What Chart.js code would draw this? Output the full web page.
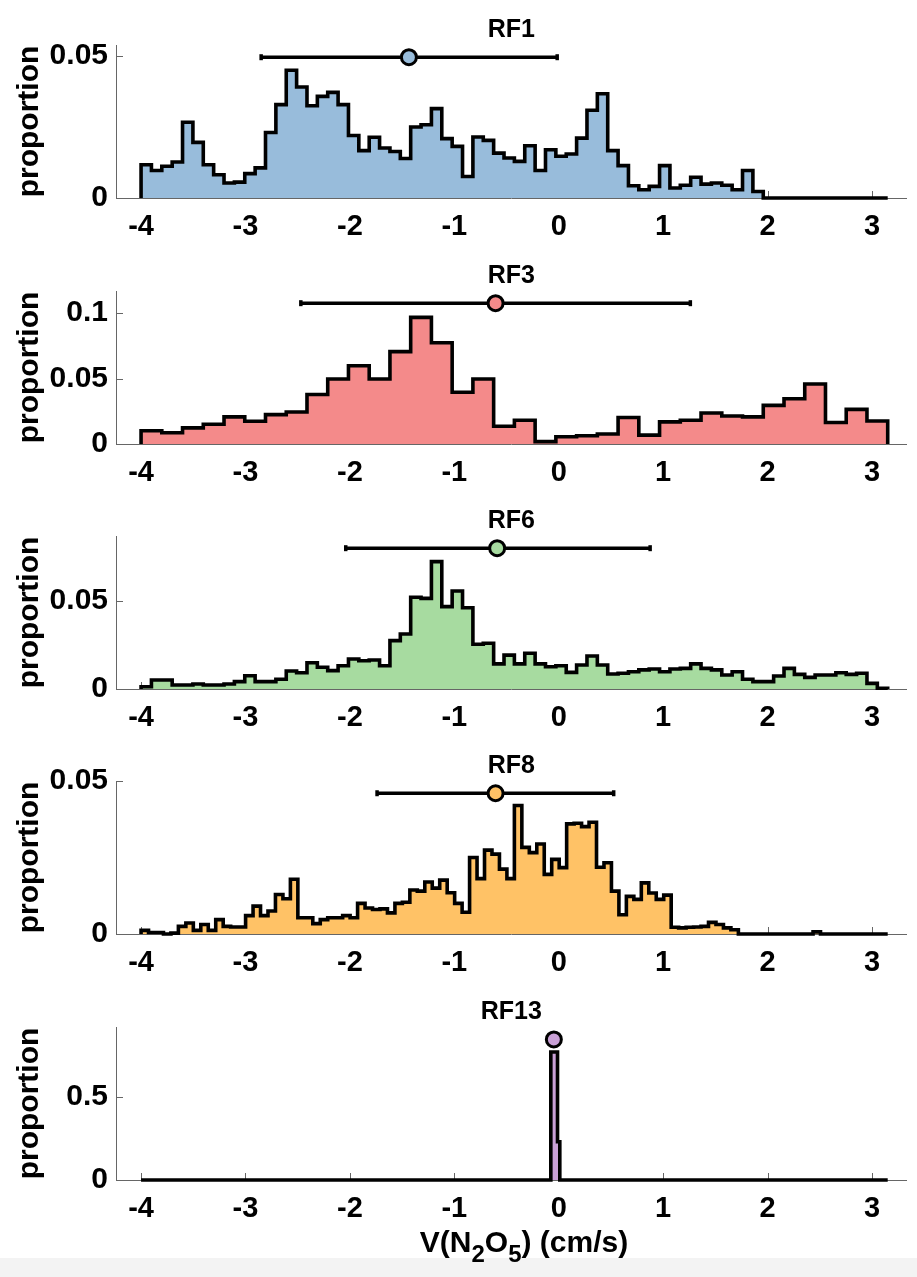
<!DOCTYPE html>
<html>
<head>
<meta charset="utf-8">
<script src="https://cdn.jsdelivr.net/npm/chart.js@4.4.1/dist/chart.umd.min.js"></script>
<style>
  html, body { margin: 0; padding: 0; background: #fff; }
  body { width: 917px; height: 1277px; position: relative; overflow: hidden;
         font-family: "Liberation Sans", Arial, Helvetica, sans-serif; }
  canvas.panel { position: absolute; left: 0; }
  #band { position: absolute; left: 0; top: 1258px; width: 917px; height: 19px; background: #f3f3f3; }
  #xlabel { position: absolute; left: 126px; width: 796px; top: 1227px; text-align: center;
            font-size: 30px; line-height: 30px; font-weight: bold; color: #000; white-space: nowrap; }
  #xlabel sub { font-size: 0.8em; vertical-align: -0.4em; line-height: 0; }
</style>
</head>
<body>
<canvas class="panel" id="p0" width="917" height="245" style="top:0px"></canvas>
<canvas class="panel" id="p1" width="917" height="245" style="top:246px"></canvas>
<canvas class="panel" id="p2" width="917" height="245" style="top:491px"></canvas>
<canvas class="panel" id="p3" width="917" height="245" style="top:736px"></canvas>
<canvas class="panel" id="p4" width="917" height="245" style="top:982px"></canvas>
<div id="band"></div>
<div id="xlabel">V(N<sub>2</sub>O<sub>5</sub>) (cm/s)</div>
<script>
// histogram range shared by all flights
const binStart = -4;
const binEnd = 3.15;
const xTicks = [-4, -3, -2, -1, 0, 1, 2, 3];

const runNames = ['RF1', 'RF3', 'RF6', 'RF8', 'RF13'];

// proportion per bin
const rf1Values = [
  0.0117, 0.0097, 0.0112, 0.0127, 0.0267, 0.0196, 0.0117, 0.0082, 0.0053, 0.0056,
  0.0086, 0.0106, 0.0231, 0.0329, 0.0450, 0.0391, 0.0325, 0.0358, 0.0372, 0.0329,
  0.0220, 0.0167, 0.0214, 0.0176, 0.0164, 0.0139, 0.0250, 0.0258, 0.0315, 0.0209,
  0.0182, 0.0076, 0.0215, 0.0203, 0.0158, 0.0141, 0.0129, 0.0184, 0.0097, 0.0170,
  0.0147, 0.0155, 0.0211, 0.0309, 0.0367, 0.0167, 0.0114, 0.0043, 0.0029, 0.0041,
  0.0114, 0.0035, 0.0045, 0.0073, 0.0049, 0.0053, 0.0045, 0.0029, 0.0097, 0.0023,
  0, 0, 0, 0, 0, 0, 0, 0, 0, 0, 0, 0
];
const rf3Values = [
  0.0101, 0.0086, 0.0123, 0.0151, 0.0207, 0.0174, 0.0224, 0.0244, 0.0378, 0.0496,
  0.0597, 0.0496, 0.0705, 0.0967, 0.0773, 0.0395, 0.0496, 0.0136, 0.0181, 0.0018,
  0.0055, 0.0063, 0.0076, 0.0202, 0.0068, 0.0169, 0.0181, 0.0237, 0.0214, 0.0207,
  0.0295, 0.0345, 0.0458, 0.0164, 0.0264, 0.0176
];
const rf6Values = [
  0.0013, 0.0051, 0.0051, 0.0023, 0.0023, 0.0028, 0.0023, 0.0023, 0.0028, 0.0042,
  0.0075, 0.0042, 0.0042, 0.0055, 0.0102, 0.0092, 0.0149, 0.0123, 0.0104, 0.0132,
  0.0170, 0.0160, 0.0164, 0.0132, 0.0274, 0.0311, 0.0519, 0.0513, 0.0721, 0.0466,
  0.0555, 0.0460, 0.0253, 0.0259, 0.0142, 0.0192, 0.0142, 0.0202, 0.0142, 0.0126,
  0.0132, 0.0094, 0.0136, 0.0187, 0.0136, 0.0085, 0.0089, 0.0098, 0.0108, 0.0113,
  0.0098, 0.0113, 0.0117, 0.0142, 0.0117, 0.0108, 0.0079, 0.0098, 0.0055, 0.0042,
  0.0042, 0.0074, 0.0117, 0.0083, 0.0066, 0.0079, 0.0079, 0.0092, 0.0083, 0.0089,
  0.0032, 0.0004
];
const rf8Values = [
  0.0012, 0.0005, 0.0005, 0.0000, 0.0003, 0.0025, 0.0036, 0.0012, 0.0031, 0.0012,
  0.0047, 0.0025, 0.0023, 0.0023, 0.0060, 0.0091, 0.0060, 0.0075, 0.0129, 0.0115,
  0.0179, 0.0053, 0.0053, 0.0034, 0.0047, 0.0053, 0.0053, 0.0060, 0.0053, 0.0100,
  0.0085, 0.0080, 0.0082, 0.0069, 0.0100, 0.0104, 0.0144, 0.0140, 0.0170, 0.0150,
  0.0176, 0.0135, 0.0100, 0.0071, 0.0250, 0.0181, 0.0274, 0.0261, 0.0212, 0.0181,
  0.0420, 0.0283, 0.0266, 0.0294, 0.0195, 0.0244, 0.0217, 0.0360, 0.0362, 0.0351,
  0.0365, 0.0218, 0.0233, 0.0140, 0.0063, 0.0123, 0.0113, 0.0167, 0.0134, 0.0113,
  0.0127, 0.0022, 0.0020, 0.0022, 0.0023, 0.0025, 0.0038, 0.0031, 0.0020, 0.0014,
  0, 0, 0, 0, 0, 0, 0, 0, 0, 0,
  0.0007, 0, 0, 0, 0, 0, 0, 0, 0, 0
];
// RF13 is almost all in two bins next to zero
const rf13Edges = [-4, -0.076, -0.012, 0.01, 3.15];
const rf13Values = [0, 0.77, 0.23, 0];

const histValues = [rf1Values, rf3Values, rf6Values, rf8Values, rf13Values];

// mean and +/- one std dev, drawn above each histogram
const runMeans = [-1.435, -0.605, -0.59, -0.605, -0.047];
const runLow = [-2.85, -2.47, -2.04, -1.74, -0.047];
const runHigh = [-0.015, 1.26, 0.875, 0.526, -0.047];
const markerLevel = [0.0496, 0.1075, 0.0797, 0.046, 0.845];

const yTop = [0.0539, 0.1168, 0.0866, 0.05, 0.92];
const yTicks = [[0, 0.05], [0, 0.05, 0.1], [0, 0.05], [0, 0.05], [0, 0.5]];

const fillColors = ['#98bcdb', '#f48a8a', '#a7dba0', '#ffc266', '#c9a0d6'];
const axisColor = '#666666';
const fontFamily = '"Liberation Sans", Arial, Helvetica, sans-serif';

Chart.defaults.font.family = fontFamily;

function evenEdges(n) {
  const w = (binEnd - binStart) / n;
  return Array.from({ length: n + 1 }, (_, i) => binStart + i * w);
}

function histPoints(edges, values) {
  const pts = [{ x: edges[0], y: 0 }];
  values.forEach((v, i) => pts.push({ x: edges[i], y: v }));
  pts.push({ x: edges[edges.length - 1], y: 0 });
  return pts;
}

// MATLAB style ticks pointing into the axes
const inwardTicks = {
  id: 'inwardTicks',
  beforeDatasetsDraw(chart) {
    const { ctx, chartArea, scales: { x, y } } = chart;
    ctx.save();
    ctx.strokeStyle = axisColor;
    ctx.lineWidth = 1;
    ctx.beginPath();
    x.ticks.forEach((t) => {
      const px = Math.round(x.getPixelForValue(t.value)) + 0.5;
      ctx.moveTo(px, chartArea.bottom);
      ctx.lineTo(px, chartArea.bottom - 7);
    });
    y.ticks.forEach((t) => {
      const py = Math.round(y.getPixelForValue(t.value)) + 0.5;
      ctx.moveTo(chartArea.left, py);
      ctx.lineTo(chartArea.left + 7, py);
    });
    ctx.stroke();
    ctx.restore();
  },
};

function makePanel(i) {
  const canvas = document.getElementById('p' + i);
  const edges = i === 4 ? rf13Edges : evenEdges(histValues[i].length);
  const level = markerLevel[i];

  new Chart(canvas, {
    type: 'line',
    data: {
      datasets: [
        {
          data: [{ x: runMeans[i], y: level }],
          showLine: false,
          pointRadius: 7.5,
          pointBorderWidth: 3,
          pointBackgroundColor: fillColors[i],
          pointBorderColor: '#000',
          clip: false,
        },
        {
          data: [{ x: runLow[i], y: level }, { x: runHigh[i], y: level }],
          borderColor: '#000',
          borderWidth: 3.5,
          pointStyle: 'line',
          rotation: 90,
          pointRadius: 3,
          pointBorderWidth: 3.5,
          pointBorderColor: '#000',
          clip: false,
        },
        {
          data: histPoints(edges, histValues[i]),
          stepped: true,
          borderColor: '#000',
          borderWidth: 3.6,
          borderJoinStyle: 'miter',
          backgroundColor: fillColors[i],
          fill: 'origin',
          pointRadius: 0,
          clip: 4,
        },
      ],
    },
    options: {
      responsive: false,
      animation: false,
      events: [],
      layout: { padding: { left: 0, right: 5, top: 0, bottom: 0 } },
      plugins: {
        legend: { display: false },
        tooltip: { enabled: false },
        title: {
          display: true,
          text: runNames[i],
          fullSize: false,
          color: '#000',
          font: { size: 25, weight: 'bold' },
          padding: { top: 15, bottom: 0 },
        },
      },
      scales: {
        x: {
          type: 'linear',
          min: -4.24,
          max: 3.33,
          afterBuildTicks: (s) => { s.ticks = xTicks.map((v) => ({ value: v })); },
          afterFit: (s) => { s.height = 47; },
          grid: { drawOnChartArea: false, drawTicks: false },
          border: { color: axisColor, width: 1 },
          ticks: {
            color: '#000',
            font: { size: 29, weight: 'bold' },
            padding: 12,
            maxRotation: 0,
            autoSkip: false,
            callback: (v) => String(v),
          },
        },
        y: {
          min: 0,
          max: yTop[i],
          afterBuildTicks: (s) => { s.ticks = yTicks[i].map((v) => ({ value: v })); },
          afterFit: (s) => { s.width = 116; },
          grid: { drawOnChartArea: false, drawTicks: false },
          border: { color: axisColor, width: 1 },
          ticks: {
            color: '#000',
            font: { size: 30, weight: 'bold' },
            padding: 8,
            callback: (v) => String(+Number(v).toFixed(3)),
          },
          title: {
            display: true,
            text: 'proportion',
            color: '#000',
            font: { size: 30, weight: 'bold' },
            padding: { top: 12, bottom: 0 },
          },
        },
      },
    },
    plugins: [inwardTicks],
  });
}

for (let i = 0; i < runNames.length; i++) makePanel(i);
</script>
</body>
</html>
